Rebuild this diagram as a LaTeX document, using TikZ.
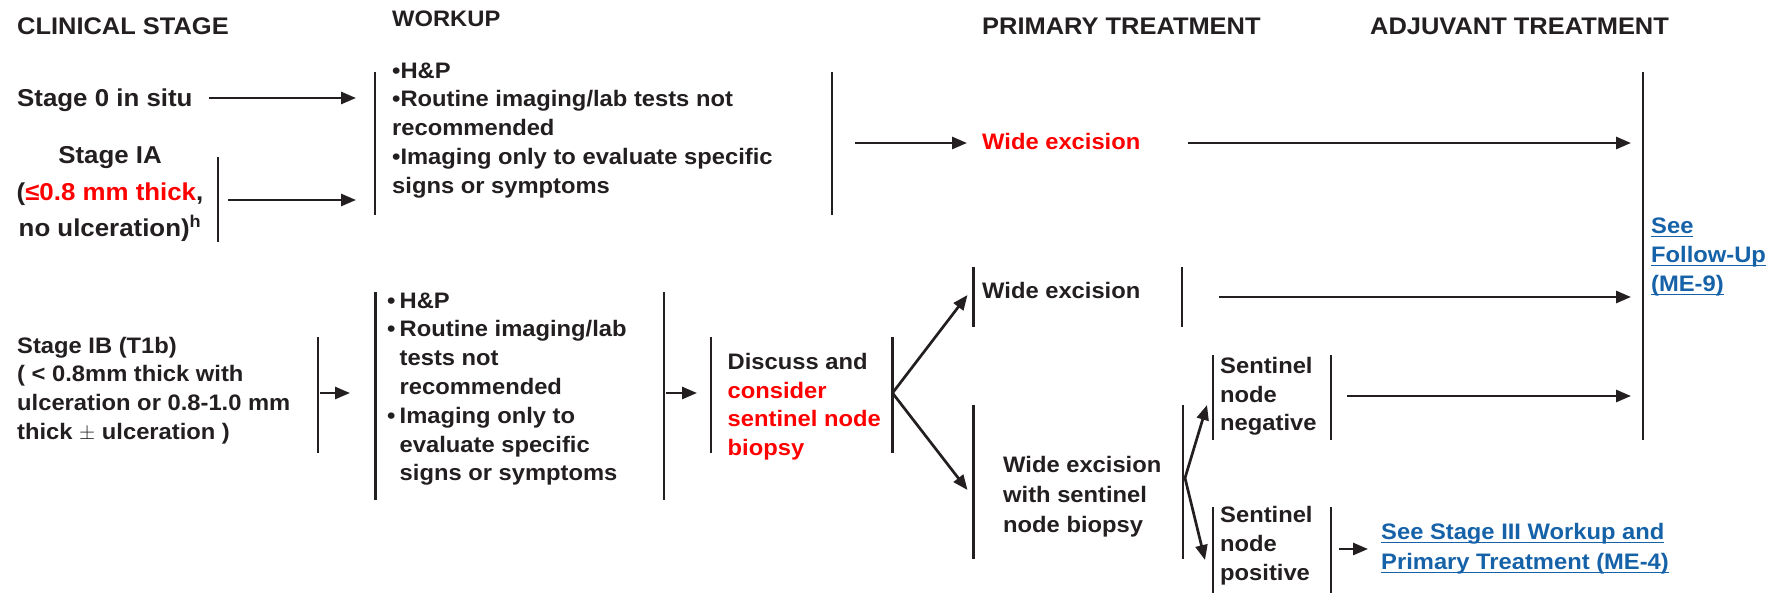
\documentclass[tikz,border=0pt]{standalone}
\usepackage{fontspec}
\newfontfamily\dgfont[FakeStretch=1.06]{Liberation Sans}
\usetikzlibrary{arrows.meta}
\definecolor{ink}{HTML}{231F20}
\definecolor{alert}{RGB}{255,0,0}
\definecolor{linkblue}{RGB}{22,98,168}
% underline at a fixed depth below the baseline
\newcommand\linkline[1]{\leavevmode\setbox0\hbox{#1}\rlap{\rule[-3.6pt]{\wd0}{1.5pt}}\box0}
\newcommand\bodyfont{\dgfont\bfseries\fontsize{22.4}{28.8}\selectfont}
\newcommand\bigbodyfont{\dgfont\bfseries\fontsize{24.4}{36.7}\selectfont}
\newcommand\headfont{\dgfont\bfseries\fontsize{24}{28.8}\selectfont}
\newcommand\bul{\makebox[12.5pt][l]{•}}
\newcommand\ind{\hspace*{12.5pt}}

\begin{document}
\begin{tikzpicture}[x=1pt,y=-1pt,
  head/.style={inner sep=0pt,anchor=base west,font=\headfont,text=ink},
  line1/.style={inner sep=0pt,anchor=base west,font=\bodyfont,text=ink},
  block/.style={inner sep=0pt,anchor=north west,align=left,font=\bodyfont,text=ink},
  bar/.style={line width=2.7pt,draw=ink},
  arr/.style={line width=2.7pt,draw=ink,-{Triangle[length=15pt,width=12pt]}}]
\useasboundingbox (0,0) rectangle (1772,596);

% column headings
\node[head] (hclin) at (17,35) {CLINICAL STAGE};
\node[line1] (hwork) at (392,27) {WORKUP};
\node[head] (hprim) at (982,35) {PRIMARY TREATMENT};
\node[head] (hadj) at (1370,35) {ADJUVANT TREATMENT};

% clinical stages
\node[line1,font=\bigbodyfont] (s0) at (17,107) {Stage 0 in situ};
\node[block,anchor=north,align=center,font=\bigbodyfont] (sIA) at (110,137.6)
  {\strut Stage IA\\(\textcolor{alert}{≤0.8 mm thick},\\no ulceration)\textsuperscript{h}};
\node[block] (sIB) at (17,332.8)
  {\strut Stage IB (T1b)\\( < 0.8mm thick with\\ulceration or 0.8-1.0 mm\\thick $\pm$ ulceration )};

% workup
\node[block] (w1) at (392,57.8)
  {\strut•H\&P\\•Routine imaging/lab tests not\\recommended\\•Imaging only to evaluate specific\\signs or symptoms};
\node[block] (w2) at (387,287.8)
  {\strut\bul H\&P\\\bul Routine imaging/lab\\\ind tests not\\\ind recommended\\\bul Imaging only to\\\ind evaluate specific\\\ind signs or symptoms};
\node[block] (disc) at (727.5,349)
  {\strut Discuss and\\\textcolor{alert}{consider}\\\textcolor{alert}{sentinel node}\\\textcolor{alert}{biopsy}};

% primary treatment
\node[line1,text=alert] (weA) at (982,150) {Wide excision};
\node[line1] (weB) at (982,298) {Wide excision};
\node[block,font=\dgfont\bfseries\fontsize{22.4}{30}\selectfont] (ws) at (1003,451)
  {\strut Wide excision\\with sentinel\\node biopsy};
\node[block] (snn) at (1220,353) {\strut Sentinel\\node\\negative};
\node[block] (snp) at (1220,502.5) {\strut Sentinel\\node\\positive};

% follow-on references
\node[block,text=linkblue] (fu) at (1651,213.5)
  {\strut\linkline{See}\\\linkline{Follow-Up}\\\linkline{(ME-9)}};
\node[block,text=linkblue,font=\dgfont\bfseries\fontsize{22.4}{30}\selectfont] (st3) at (1381,518.5)
  {\strut\linkline{See Stage III Workup and}\\\linkline{Primary Treatment (ME-4)}};

% bracket bars
\coordinate (bIAt) at (218,157);   \coordinate (bIAb) at (218,242);
\coordinate (w1Lt) at (375,72);    \coordinate (w1Lb) at (375,215);
\coordinate (w1Rt) at (832,72);    \coordinate (w1Rb) at (832,215);
\coordinate (bigt) at (1643,72);   \coordinate (bigb) at (1643,440);
\coordinate (bIBt) at (318,337);   \coordinate (bIBb) at (318,453);
\coordinate (w2Lt) at (375.5,292); \coordinate (w2Lb) at (375.5,500);
\coordinate (w2Rt) at (664,292);   \coordinate (w2Rb) at (664,500);
\coordinate (dLt) at (711,337);    \coordinate (dLb) at (711,453);
\coordinate (dRt) at (892.5,337);  \coordinate (dRb) at (892.5,453);
\coordinate (weLt) at (973.5,267); \coordinate (weLb) at (973.5,327);
\coordinate (weRt) at (1182,267);  \coordinate (weRb) at (1182,327);
\coordinate (wsLt) at (973.5,405); \coordinate (wsLb) at (973.5,559);
\coordinate (wsRt) at (1183,405);  \coordinate (wsRb) at (1183,559);
\coordinate (nnLt) at (1213,355);  \coordinate (nnLb) at (1213,440);
\coordinate (nnRt) at (1331,355);  \coordinate (nnRb) at (1331,440);
\coordinate (npLt) at (1213,507);  \coordinate (npLb) at (1213,593);
\coordinate (npRt) at (1331,507);  \coordinate (npRb) at (1331,593);
\foreach \b in {bIA,w1L,w1R,big,bIB,w2L,w2R,dL,dR,weL,weR,wsL,wsR,nnL,nnR,npL,npR}
  \draw[bar] (\b t) -- (\b b);

% arrow end points
\coordinate (a1s) at (209,98);     \coordinate (a1e) at (356,98);
\coordinate (a2s) at (228,200);    \coordinate (a2e) at (356,200);
\coordinate (a3s) at (855,143);    \coordinate (a3e) at (967,143);
\coordinate (a4s) at (1188,143);   \coordinate (a4e) at (1631,143);
\coordinate (a5s) at (320,393);    \coordinate (a5e) at (350,393);
\coordinate (a6s) at (666,393);    \coordinate (a6e) at (697,393);
\coordinate (fork1) at (892.5,393);
\coordinate (a7e) at (967.5,295);  \coordinate (a8e) at (967.5,490);
\coordinate (a9s) at (1219,297);   \coordinate (a9e) at (1631,297);
\coordinate (fork2) at (1185,478);
\coordinate (a10e) at (1207,405);  \coordinate (a11e) at (1205,560);
\coordinate (a12s) at (1347,396);  \coordinate (a12e) at (1631,396);
\coordinate (a13s) at (1339,549);  \coordinate (a13e) at (1368,549);

\draw[arr] (a1s) -- (a1e);
\draw[arr] (a2s) -- (a2e);
\draw[arr] (a3s) -- (a3e);
\draw[arr] (a4s) -- (a4e);
\draw[arr] (a5s) -- (a5e);
\draw[arr] (a6s) -- (a6e);
\draw[arr] (fork1) -- (a7e);
\draw[arr] (fork1) -- (a8e);
\draw[arr] (a9s) -- (a9e);
\draw[arr] (fork2) -- (a10e);
\draw[arr] (fork2) -- (a11e);
\draw[arr] (a12s) -- (a12e);
\draw[arr] (a13s) -- (a13e);
\end{tikzpicture}
\end{document}
